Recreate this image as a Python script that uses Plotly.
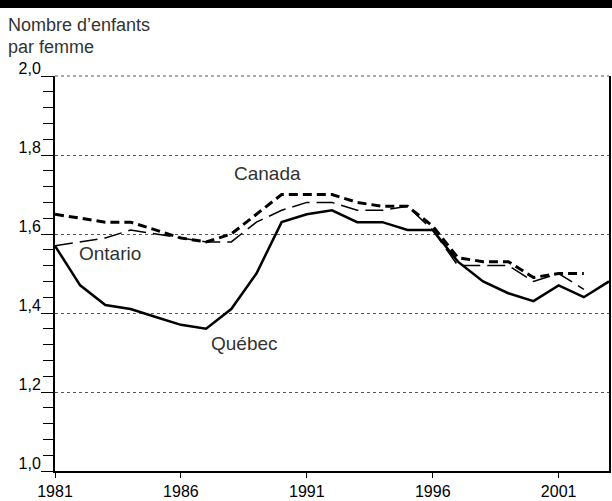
import plotly.graph_objects as go

# Indice synthétique de fécondité, 1981-2003
years = list(range(1981, 2004))
quebec = [1.57, 1.47, 1.42, 1.41, 1.39, 1.37, 1.36, 1.41, 1.50, 1.63, 1.65, 1.66,
          1.63, 1.63, 1.61, 1.61, 1.53, 1.48, 1.45, 1.43, 1.47, 1.44, 1.48]
canada = [1.65, 1.64, 1.63, 1.63, 1.61, 1.59, 1.58, 1.60, 1.65, 1.70, 1.70, 1.70,
          1.68, 1.67, 1.67, 1.62, 1.54, 1.53, 1.53, 1.49, 1.50, 1.50]
ontario = [1.57, 1.58, 1.59, 1.61, 1.60, 1.59, 1.58, 1.58, 1.63, 1.66, 1.68, 1.68,
           1.66, 1.66, 1.67, 1.61, 1.52, 1.52, 1.52, 1.48, 1.50, 1.46]

y_ticks = [1.0, 1.2, 1.4, 1.6, 1.8, 2.0]
y_ticktext = ["1,0", "1,2", "1,4", "1,6", "1,8", "2,0"]
x_ticks = [1981, 1986, 1991, 1996, 2001]

font = "Liberation Sans, Arial, sans-serif"

fig = go.Figure()
fig.add_trace(go.Scatter(x=years[:len(ontario)], y=ontario, mode="lines",
                         line=dict(color="black", width=1.5, dash="18px,7px")))
fig.add_trace(go.Scatter(x=years[:len(canada)], y=canada, mode="lines",
                         line=dict(color="black", width=3, dash="9px,5px")))
fig.add_trace(go.Scatter(x=years, y=quebec, mode="lines",
                         line=dict(color="black", width=2.5)))

# étiquettes des séries
for txt, xx, yy in [("Canada", 1989.43, 1.753), ("Ontario", 1983.18, 1.551),
                    ("Québec", 1988.52, 1.322)]:
    fig.add_annotation(x=xx, y=yy, text=txt, showarrow=False,
                       font=dict(size=19, color="#333333", family=font))

# titre de l'axe
fig.add_annotation(xref="paper", yref="paper", x=-0.088, y=1.1895, yshift=-12,
                   text="Nombre d’enfants", showarrow=False, xanchor="left", yanchor="top",
                   font=dict(size=18, color="#333333", family=font))
fig.add_annotation(xref="paper", yref="paper", x=-0.088, y=1.1895, yshift=-34,
                   text="par femme", showarrow=False, xanchor="left", yanchor="top",
                   font=dict(size=18, color="#333333", family=font))

# bande noire en haut
fig.add_shape(type="rect", xref="paper", yref="paper", x0=-0.2, x1=1.1,
              y0=1.172, y1=1.25, fillcolor="black", line=dict(width=0), layer="above")
# bord supérieur pointillé
fig.add_shape(type="line", xref="paper", yref="paper", x0=0, x1=1, y0=1, y1=1,
              line=dict(color="#555555", width=1, dash="dot"))

fig.update_layout(
    width=612, height=501,
    margin=dict(l=55, r=1, t=76, b=24),
    plot_bgcolor="white", paper_bgcolor="white",
    showlegend=False,
    font=dict(family=font, size=16, color="black"),
    xaxis=dict(range=[1981, 2003], tickvals=x_ticks, ticks="outside", ticklen=5,
               tickcolor="black", showgrid=False, showline=True, linecolor="black",
               linewidth=2, zeroline=False, tickfont=dict(size=16)),
    yaxis=dict(range=[1.0, 2.0], tickvals=y_ticks, ticktext=y_ticktext,
               ticks="outside", ticklen=12, tickcolor="black", ticklabelshift=-8,
               ticklabelstandoff=-3,
               showgrid=True, gridcolor="#555555", griddash="dot", gridwidth=1,
               showline=True, linecolor="black", linewidth=2, mirror=True,
               zeroline=False, tickfont=dict(size=16),
               minor=dict(dtick=0.04, tick0=1.0, ticks="outside", ticklen=10,
                          tickcolor="black", showgrid=False)),
)

fig.write_html("out.html", config={"displayModeBar": False},
               post_script="document.body.style.margin='0';")
